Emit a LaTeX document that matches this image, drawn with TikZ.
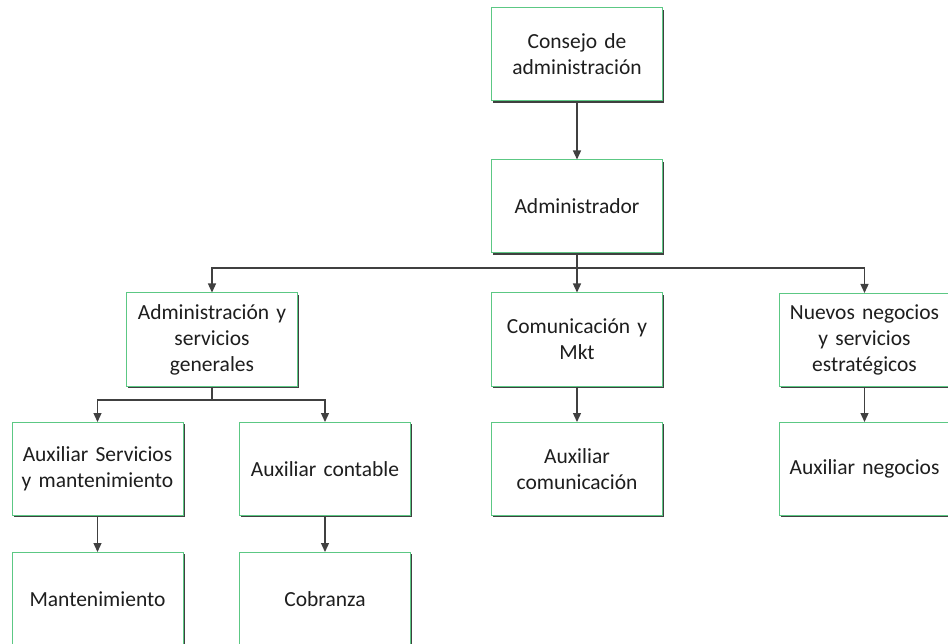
\documentclass[tikz,border=0pt]{standalone}
\usepackage{fontspec}
\setmainfont{Carlito}
\usetikzlibrary{arrows.meta,shadows}
\definecolor{boxgreen}{RGB}{92,200,132}
\definecolor{lineGray}{RGB}{64,64,64}
\definecolor{txt}{RGB}{30,30,30}
\tikzset{
  orgbox/.style={draw=boxgreen, line width=1pt, fill=white,
    minimum width=171pt, minimum height=93pt, inner sep=2pt,
    text width=167pt, align=center, text=txt,
    font=\fontsize{21.5}{26}\selectfont,
    drop shadow={shadow xshift=1.6pt, shadow yshift=-1.6pt, fill=black!75, opacity=1}},
  link/.style={draw=lineGray, line width=1.3pt,
    -{Triangle[length=9pt,width=8pt]}},
  plainlink/.style={draw=lineGray, line width=1.3pt}
}
\begin{document}
\begin{tikzpicture}[x=1pt,y=-1pt]
\useasboundingbox (0,0) rectangle (948,644);

% top of the hierarchy
\node[orgbox] (consejo) at (577,54.5) {Consejo de\\administración};
\node[orgbox] (admin)   at (577,206.5) {Administrador};

% departments
\node[orgbox] (ays) at (212,339.5) {Administración y\\servicios\\generales};
\node[orgbox] (com) at (577,339.5) {Comunicación y\\Mkt};
\node[orgbox] (nue) at (864.5,340) {Nuevos negocios\\y servicios\\estratégicos};

% assistants
\node[orgbox] (auxs)   at (97.5,469)  {Auxiliar Servicios\\y mantenimiento};
\node[orgbox] (auxc)   at (325,469)   {Auxiliar contable};
\node[orgbox] (auxcom) at (577,469)   {Auxiliar\\comunicación};
\node[orgbox] (auxn)   at (864.5,469) {Auxiliar negocios};

% bottom level
\node[orgbox] (mant) at (97.5,599) {Mantenimiento};
\node[orgbox] (cob)  at (325,599)  {Cobranza};

% bus junctions
\coordinate (bus1) at (577,268);
\coordinate (bus2) at (212,400);

% connectors
\draw[link] (consejo) -- (admin);
\draw[plainlink] (admin.south) -- (bus1);
\draw[link] (bus1) -| (ays.north);
\draw[link] (bus1) -- (com.north);
\draw[link] (bus1) -| (nue.north);

\draw[plainlink] (ays.south) -- (bus2);
\draw[link] (bus2) -| (auxs.north);
\draw[link] (bus2) -| (auxc.north);

\draw[link] (com) -- (auxcom);
\draw[link] (nue) -- (auxn);
\draw[link] (auxs) -- (mant);
\draw[link] (auxc) -- (cob);
\end{tikzpicture}
\end{document}
